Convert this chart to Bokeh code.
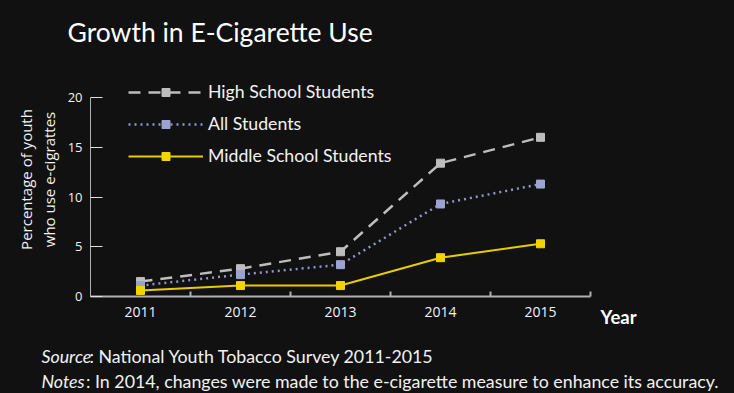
from bokeh.plotting import figure
from bokeh.models import Range1d, FixedTicker, Label, Legend, LegendItem
from bokeh.embed import file_html
from bokeh.resources import INLINE

years = [2011, 2012, 2013, 2014, 2015]
year_labels = ["2011", "2012", "2013", "2014", "2015"]
high_school = [1.5, 2.8, 4.5, 13.4, 16.0]
all_students = [1.1, 2.2, 3.2, 9.3, 11.3]
middle_school = [0.6, 1.1, 1.1, 3.9, 5.3]
series_names = ["High School Students", "All Students", "Middle School Students"]
y_ticks = [0, 5, 10, 15, 20]

BG = "#111111"
TXT = "#f2f2f2"

# frame: left 90 .. right 590, top 62 .. bottom 296
p = figure(width=734, height=393, output_backend="svg", toolbar_location=None, tools="",
           x_range=Range1d(2010.5, 2015.5), y_range=Range1d(0, 23.52),
           min_border_left=90, min_border_right=144, min_border_top=62, min_border_bottom=97)
p.styles = {"background-color": BG}
p.background_fill_color = BG
p.border_fill_color = BG
p.outline_line_color = None
p.xgrid.grid_line_color = None
p.ygrid.grid_line_color = None

# x axis
p.xaxis.bounds = (2010.5, 2015.5)
p.xaxis.ticker = FixedTicker(ticks=years, minor_ticks=[y + 0.5 for y in years])
p.xaxis.major_label_overrides = {y: l for y, l in zip(years, year_labels)}
p.xaxis.major_tick_in = 0
p.xaxis.major_tick_out = 0
p.xaxis.minor_tick_in = 5
p.xaxis.minor_tick_out = 0
p.xaxis.minor_tick_line_color = "#b0b0b0"
p.xaxis.minor_tick_line_width = 2
p.xaxis.axis_line_color = "#b0b0b0"
p.xaxis.axis_line_width = 2
p.xaxis.major_label_text_font = "Open Sans"
p.xaxis.major_label_text_font_size = "14px"
p.xaxis.major_label_text_color = TXT
p.xaxis.major_label_standoff = 10

# y axis
p.yaxis.bounds = (0, 20)
p.yaxis.ticker = FixedTicker(ticks=y_ticks)
p.yaxis.major_tick_in = 12
p.yaxis.major_tick_out = 0
p.yaxis.minor_tick_line_color = None
p.yaxis.major_tick_line_color = "#e0e0e0"
p.yaxis.axis_line_color = "#b0b0b0"
p.yaxis.major_label_text_font = "Open Sans"
p.yaxis.major_label_text_font_size = "13px"
p.yaxis.major_label_text_color = TXT
p.yaxis.major_label_standoff = 8
p.yaxis.axis_label = "Percentage of youth\nwho use e-cigrattes"
p.yaxis.axis_label_text_font = "Open Sans"
p.yaxis.axis_label_text_font_style = "normal"
p.yaxis.axis_label_text_font_size = "15px"
p.yaxis.axis_label_text_line_height = 1.15
p.yaxis.axis_label_text_color = TXT
p.yaxis.axis_label_standoff = 6

# series
hs_line = p.line(years, high_school, line_color="#bdbdbd", line_width=2.5, line_dash="12 8")
hs_pts = p.scatter(years, high_school, marker="square", size=8, color="#bdbdbd")
all_line = p.line(years, all_students, line_color="#8f98c8", line_width=2.5, line_dash="2 4")
all_pts = p.scatter(years, all_students, marker="square", size=8, color="#9aa3d2")
ms_line = p.line(years, middle_school, line_color="#e8cc00", line_width=2)
ms_pts = p.scatter(years, middle_school, marker="square", size=8, color="#f2d400")

legend = Legend(items=[
    LegendItem(label=series_names[0], renderers=[hs_line, hs_pts]),
    LegendItem(label=series_names[1], renderers=[all_line, all_pts]),
    LegendItem(label=series_names[2], renderers=[ms_line, ms_pts]),
], location=(38, 130), glyph_width=75, glyph_height=20, spacing=11, label_standoff=5,
   padding=0, margin=0, background_fill_alpha=0, border_line_color=None,
   label_text_font="Lato", label_text_font_size="17.7px", label_text_color=TXT,
   label_height=20)
p.add_layout(legend, "center")

def side_text(place, x, y, text, size, style="normal", color=TXT):
    p.add_layout(Label(x=x, y=y, text=text, text_font="Lato", text_font_size=size,
                       text_font_style=style, text_color=color, text_baseline="alphabetic"),
                 place)

# above panel: title + "Notes" word; right panel: "Year" + "Source" word; below: long texts
side_text("above", 2010.27, 26.63, "Growth in E-Cigarette Use", "26.5px", color="#ffffff")
side_text("right", 2015.6, -2.08, "Year", "18.5px", "bold", "#ffffff")
side_text("right", 2010.01, -6.03, "Source", "17.8px", "italic")
side_text("below", 2010.49, -6.03, ": National Youth Tobacco Survey 2011-2015", "17.8px")
side_text("above", 2010.01, -8.51, "Notes", "17.8px", "italic")
side_text("below", 2010.455, -8.51, ": In 2014, changes were made to the e-cigarette measure to enhance its accuracy.", "17.8px")

open("out.html", "w").write(file_html(p, INLINE))
